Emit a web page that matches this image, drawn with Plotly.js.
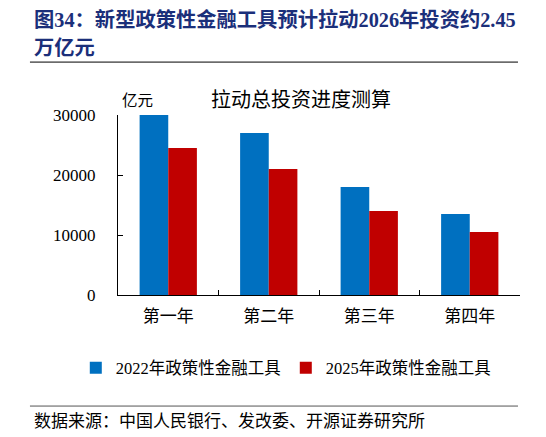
<!DOCTYPE html>
<html>
<head>
<meta charset="utf-8">
<script src="https://cdn.plot.ly/plotly-3.0.1.min.js"></script>
<style>
  body { margin: 0; background: #fff; }
  #chart { width: 546px; height: 437px; }
</style>
</head>
<body>
<div id="chart"></div>
<script>
const years = ["第一年", "第二年", "第三年", "第四年"];
const tools2022 = [30000, 27000, 18000, 13500];
const tools2025 = [24500, 21000, 14000, 10500];
const yTicks = [0, 10000, 20000, 30000];

const serif = '"Liberation Serif", "Noto Sans CJK SC", serif';
const titleColor = "#1B2F7A";

const traces = [
  {
    x: years, y: tools2022, type: "bar", name: "2022年政策性金融工具",
    marker: { color: "#0070C0" }, hoverinfo: "none"
  },
  {
    x: years, y: tools2025, type: "bar", name: "2025年政策性金融工具",
    marker: { color: "#C00000" }, hoverinfo: "none"
  }
];

const layout = {
  width: 546,
  height: 437,
  margin: { l: 118, r: 26, t: 115, b: 142 },
  paper_bgcolor: "#fff",
  plot_bgcolor: "#fff",
  font: { family: serif, size: 15, color: "#000" },
  barmode: "group",
  bargap: 0.43,
  bargroupgap: 0,
  showlegend: true,
  legend: {
    orientation: "h", x: -0.105, xanchor: "left", y: -0.405, yanchor: "middle",
    font: { family: serif, size: 16.5 }, itemwidth: 14, traceorder: "normal"
  },
  xaxis: {
    showline: true, linecolor: "#000", linewidth: 1,
    ticks: "inside", tickson: "boundaries", ticklen: 5, tickcolor: "#000",
    ticklabelstandoff: 6,
    showgrid: false, zeroline: false, fixedrange: true,
    tickfont: { family: serif, size: 17 }
  },
  yaxis: {
    range: [0, 30000], tickvals: yTicks, ticktext: yTicks.map(String),
    showline: true, linecolor: "#000", linewidth: 1,
    ticks: "inside", ticklen: 5, tickcolor: "#000",
    ticklabelstandoff: 18,
    showgrid: false, zeroline: false, fixedrange: true,
    tickfont: { family: serif, size: 17 }
  },
  annotations: [
    {
      text: "<b>图34：新型政策性金融工具预计拉动2026年投资约2.45</b>",
      xref: "paper", yref: "paper", x: -0.213, y: 1.528,
      xanchor: "left", yanchor: "middle", showarrow: false,
      font: { family: serif, size: 20.3, color: titleColor }
    },
    {
      text: "<b>万亿元</b>",
      xref: "paper", yref: "paper", x: -0.213, y: 1.372,
      xanchor: "left", yanchor: "middle", showarrow: false,
      font: { family: serif, size: 20.3, color: titleColor }
    },
    {
      text: "拉动总投资进度测算",
      xref: "paper", yref: "paper", x: 0.455, y: 1.083,
      xanchor: "center", yanchor: "middle", showarrow: false,
      font: { family: serif, size: 20 }
    },
    {
      text: "亿元",
      xref: "paper", yref: "paper", x: 0.048, y: 1.083,
      xanchor: "center", yanchor: "middle", showarrow: false,
      font: { family: serif, size: 15.5 }
    },
    {
      text: "数据来源：中国人民银行、发改委、开源证券研究所",
      xref: "paper", yref: "paper", x: -0.213, y: -0.70,
      xanchor: "left", yanchor: "middle", showarrow: false,
      font: { family: serif, size: 17 }
    }
  ],
  shapes: [
    {
      type: "line", xref: "paper", yref: "paper",
      x0: -0.219, x1: 0.995, y0: 1.294, y1: 1.294,
      line: { color: "#000", width: 1 }
    },
    {
      type: "line", xref: "paper", yref: "paper",
      x0: -0.219, x1: 0.995, y0: -0.617, y1: -0.617,
      line: { color: "#555", width: 1 }
    }
  ]
};

Plotly.newPlot("chart", traces, layout, { displayModeBar: false, staticPlot: true });
</script>
</body>
</html>
